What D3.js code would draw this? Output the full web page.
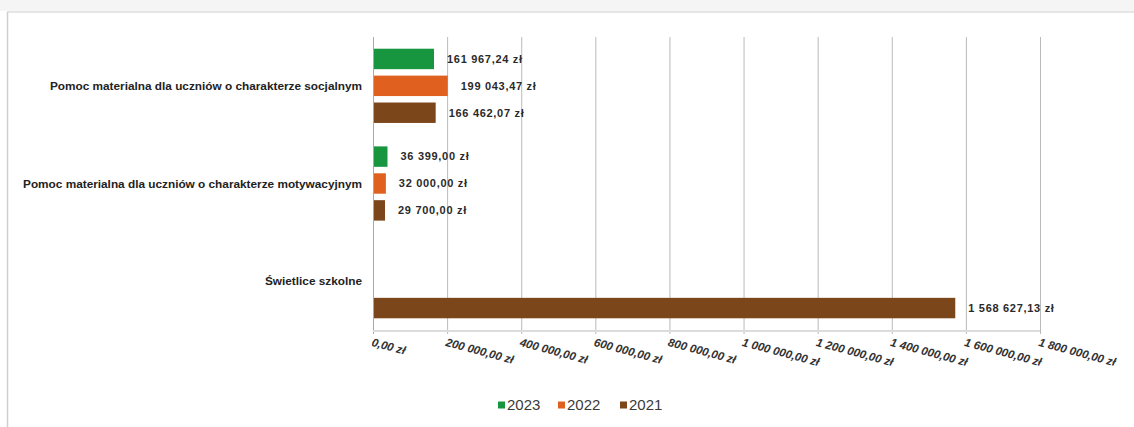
<!DOCTYPE html>
<html><head><meta charset="utf-8">
<script src="https://cdn.jsdelivr.net/npm/d3@7"></script>
<style>
body{margin:0;background:#fff;}
svg{display:block;font-family:"Liberation Sans",Arial,sans-serif;}
</style></head><body>
<svg id="c" width="1134" height="427"></svg>
<script>
const categories = ["Pomoc materialna dla uczniów o charakterze socjalnym",
  "Pomoc materialna dla uczniów o charakterze motywacyjnym",
  "Świetlice szkolne"];
const seriesNames = ["2023", "2022", "2021"];
const values2023 = [161967.24, 36399.00, null];
const values2022 = [199043.47, 32000.00, null];
const values2021 = [166462.07, 29700.00, 1568627.13];
const seriesValues = [values2023, values2022, values2021];
const seriesColors = ["#17963f", "#e0611f", "#7c461b"];
const tickValues = [0, 200000, 400000, 600000, 800000, 1000000, 1200000, 1400000, 1600000, 1800000];

const svg = d3.select("#c");
// frame
svg.append("rect").attr("x", 0).attr("y", 0).attr("width", 1134).attr("height", 11).attr("fill", "#f4f5f4");
svg.append("line").attr("x1", 7).attr("x2", 1134).attr("y1", 12).attr("y2", 12).attr("stroke", "#e3e6e3").attr("stroke-width", 2);
svg.append("line").attr("x1", 7.5).attr("x2", 7.5).attr("y1", 12).attr("y2", 427).attr("stroke", "#d2cfcb").attr("stroke-width", 1.5);

const fmt = v => {
  const s = v.toFixed(2).split(".");
  const int = s[0].replace(/\B(?=(\d{3})+(?!\d))/g, " ");
  return int + "," + s[1] + " zł";
};

const x = d3.scaleLinear().domain([0, 1800000]).range([373, 1040]);
const y0 = d3.scaleBand().domain(categories).range([37, 330]).paddingInner(0.24).paddingOuter(0.12);
const y1 = d3.scaleBand().domain(seriesNames).range([0, y0.bandwidth()]).paddingInner(0.24).paddingOuter(0);

// gridlines
svg.append("g").selectAll("line").data(tickValues).join("line")
  .attr("x1", d => x(d) + 0.5).attr("x2", d => x(d) + 0.5)
  .attr("y1", 37).attr("y2", 334)
  .attr("stroke", d => d === 0 ? "#a9a9a9" : "#b9bcb6").attr("stroke-width", 1);
// baseline
svg.append("line").attr("x1", 373).attr("x2", 1040).attr("y1", 331).attr("y2", 331)
  .attr("stroke", "#dcdcdc").attr("stroke-width", 2);

// bars
const flat = [];
categories.forEach((c, i) => seriesNames.forEach((s, j) => {
  const v = seriesValues[j][i];
  if (v !== null) flat.push({c, s, v, color: seriesColors[j]});
}));
const g = svg.append("g");
g.selectAll("rect").data(flat).join("rect")
  .attr("x", x(0) + 1)
  .attr("y", d => y0(d.c) + y1(d.s))
  .attr("width", d => x(d.v) - x(0))
  .attr("height", y1.bandwidth())
  .attr("fill", d => d.color);
g.selectAll("text").data(flat).join("text")
  .attr("x", d => x(d.v) + 14)
  .attr("y", d => y0(d.c) + y1(d.s) + y1.bandwidth() / 2)
  .attr("dy", "0.35em")
  .attr("font-size", 11).attr("letter-spacing", 0.7).attr("font-weight", "bold").attr("fill", "#2a2a2a")
  .text(d => fmt(d.v));

// category labels
svg.append("g").selectAll("text").data(categories).join("text")
  .attr("x", 362).attr("y", d => y0(d) + y0.bandwidth() / 2)
  .attr("dy", "0.35em").attr("text-anchor", "end")
  .attr("font-size", 11.8).attr("font-weight", "bold").attr("fill", "#222")
  .text(d => d);

// x axis
const axis = d3.axisBottom(x).tickValues(tickValues).tickSize(0).tickFormat(fmt);
const ax = svg.append("g").attr("transform", "translate(0,336)").call(axis);
ax.select(".domain").remove();
ax.selectAll("text")
  .attr("font-family", "Liberation Sans, Arial, sans-serif")
  .attr("font-size", 11.5).attr("font-style", "italic").attr("font-weight", "bold").attr("fill", "#333")
  .attr("text-anchor", "start")
  .attr("transform", "rotate(15)")
  .attr("x", 0).attr("y", 6).attr("dy", "0.35em");

// legend
const legX = [498, 558, 620];
const leg = svg.append("g").selectAll("g").data(seriesNames).join("g")
  .attr("transform", (d, i) => `translate(${legX[i]},405)`);
leg.append("rect").attr("x", 0).attr("y", -3.5).attr("width", 7).attr("height", 7)
  .attr("fill", (d, i) => seriesColors[i]);
leg.append("text").attr("x", 9).attr("y", 0).attr("dy", "0.35em")
  .attr("font-size", 15).attr("fill", "#3a3a3a").text(d => d);
</script>
</body></html>
